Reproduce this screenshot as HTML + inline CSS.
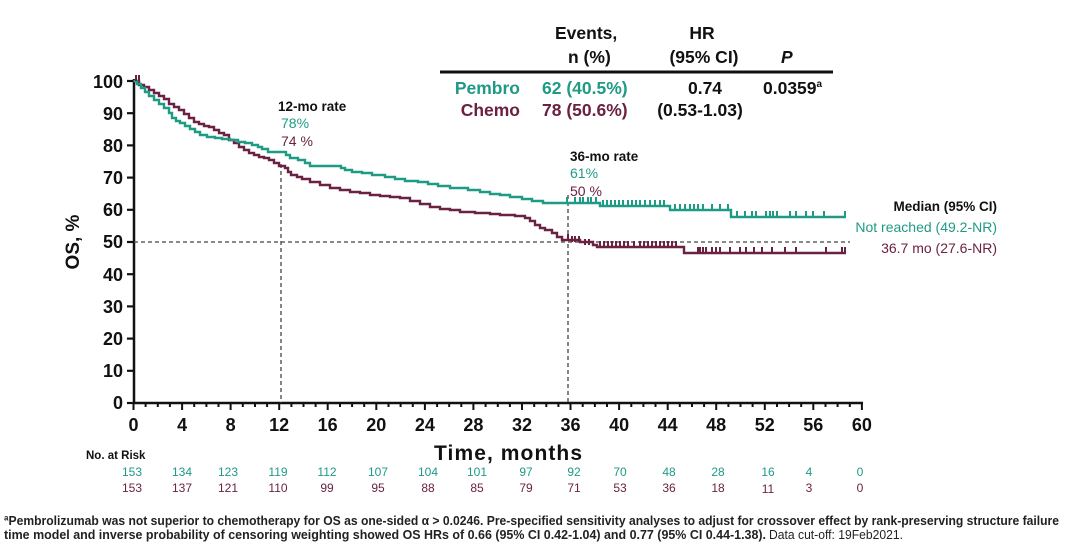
<!DOCTYPE html>
<html><head><meta charset="utf-8"><style>
html,body{margin:0;padding:0;background:#fff;}
svg{display:block;}
text{font-family:"Liberation Sans",Arial,sans-serif;}
</style></head><body>
<svg width="1080" height="555" viewBox="0 0 1080 555" xmlns="http://www.w3.org/2000/svg">
<rect width="1080" height="555" fill="#fff"/>

<!-- Header table -->
<g font-weight="bold" font-size="17.5" fill="#111">
<text x="555" y="39">Events,</text>
<text x="568" y="63">n (%)</text>
<text x="702" y="39" text-anchor="middle">HR</text>
<text x="704" y="63" text-anchor="middle">(95% CI)</text>
<text x="781" y="63" font-style="italic">P</text>
</g>
<line x1="440" y1="72" x2="833" y2="72" stroke="#111" stroke-width="3"/>
<g font-weight="bold" font-size="17.5">
<text x="520" y="94" text-anchor="end" fill="#1f9a85">Pembro</text>
<text x="542" y="94" fill="#1f9a85">62 (40.5%)</text>
<text x="705" y="94" text-anchor="middle" fill="#111">0.74</text>
<text x="763" y="94" fill="#111">0.0359<tspan font-size="10" dy="-7">a</tspan></text>
<text x="520" y="116" text-anchor="end" fill="#6b2242">Chemo</text>
<text x="542" y="116" fill="#6b2242">78 (50.6%)</text>
<text x="700" y="116" text-anchor="middle" fill="#111">(0.53-1.03)</text>
</g>

<!-- Axes -->
<g stroke="#111" stroke-width="2.5" fill="none">
<line x1="134" y1="79" x2="134" y2="404"/>
<line x1="133" y1="403" x2="863" y2="403"/>
</g>
<!-- Y ticks -->
<g stroke="#111" stroke-width="2.2">
<line x1="127" y1="81" x2="134" y2="81"/>
<line x1="127" y1="113.2" x2="134" y2="113.2"/>
<line x1="127" y1="145.4" x2="134" y2="145.4"/>
<line x1="127" y1="177.6" x2="134" y2="177.6"/>
<line x1="127" y1="209.8" x2="134" y2="209.8"/>
<line x1="127" y1="242" x2="134" y2="242"/>
<line x1="127" y1="274.2" x2="134" y2="274.2"/>
<line x1="127" y1="306.4" x2="134" y2="306.4"/>
<line x1="127" y1="338.6" x2="134" y2="338.6"/>
<line x1="127" y1="370.8" x2="134" y2="370.8"/>
<line x1="127" y1="403" x2="134" y2="403"/>
</g>
<g font-weight="bold" font-size="18" fill="#111" text-anchor="end">
<text x="123" y="88">100</text>
<text x="123" y="120">90</text>
<text x="123" y="152">80</text>
<text x="123" y="184">70</text>
<text x="123" y="216">60</text>
<text x="123" y="248">50</text>
<text x="123" y="281">40</text>
<text x="123" y="313">30</text>
<text x="123" y="345">20</text>
<text x="123" y="377">10</text>
<text x="123" y="409">0</text>
</g>
<!-- X ticks -->
<g stroke="#111" stroke-width="2">
<path d="M133.5,403V410 M182.1,403V410 M230.6,403V410 M279.2,403V410 M327.7,403V410 M376.3,403V410 M424.9,403V410 M473.4,403V410 M522,403V410 M570.5,403V410 M619.1,403V410 M667.7,403V410 M716.2,403V410 M764.8,403V410 M813.3,403V410 M861.9,403V410"/>
<path d="M145.6,403V407 M157.8,403V407 M169.9,403V407 M194.2,403V407 M206.4,403V407 M218.5,403V407 M242.8,403V407 M255,403V407 M267.1,403V407 M291.4,403V407 M303.5,403V407 M315.6,403V407 M340,403V407 M352.1,403V407 M364.2,403V407 M388.5,403V407 M400.6,403V407 M412.8,403V407 M437.1,403V407 M449.2,403V407 M461.3,403V407 M485.6,403V407 M497.8,403V407 M509.9,403V407 M534.2,403V407 M546.3,403V407 M558.4,403V407 M582.7,403V407 M594.9,403V407 M607,403V407 M631.3,403V407 M643.4,403V407 M655.5,403V407 M679.8,403V407 M692,403V407 M704.1,403V407 M728.4,403V407 M740.5,403V407 M752.6,403V407 M777,403V407 M789.1,403V407 M801.2,403V407 M825.5,403V407 M837.6,403V407 M849.8,403V407"/>
</g>
<g font-weight="bold" font-size="18" fill="#111" text-anchor="middle">
<text x="133.5" y="431">0</text>
<text x="182.1" y="431">4</text>
<text x="230.6" y="431">8</text>
<text x="279.2" y="431">12</text>
<text x="327.7" y="431">16</text>
<text x="376.3" y="431">20</text>
<text x="424.9" y="431">24</text>
<text x="473.4" y="431">28</text>
<text x="522" y="431">32</text>
<text x="570.5" y="431">36</text>
<text x="619.1" y="431">40</text>
<text x="667.7" y="431">44</text>
<text x="716.2" y="431">48</text>
<text x="764.8" y="431">52</text>
<text x="813.3" y="431">56</text>
<text x="861.9" y="431">60</text>
</g>
<text x="434" y="460" font-weight="bold" font-size="21" fill="#111" textLength="148" lengthAdjust="spacing">Time, months</text>
<text transform="translate(79,242) rotate(-90)" text-anchor="middle" font-weight="bold" font-size="19" fill="#111">OS, %</text>

<!-- Dashed reference lines -->
<g stroke="#444" stroke-width="1.3" stroke-dasharray="4,3" fill="none">
<line x1="134" y1="242" x2="850" y2="242"/>
<line x1="281" y1="164" x2="281" y2="403"/>
<line x1="568" y1="195" x2="568" y2="403"/>
</g>

<!-- Curves -->
<path fill="none" stroke="#6b2242" stroke-width="2.4" d="M133.5,81 H139 V85 H144 V87 H149 V90 H154 V93 H159 V96 H164 V99 H169 V104 H174 V107 H179 V110 H184 V114 H189 V118 H194 V122 H199 V124 H204 V126 H209 V127 H214 V130 H219 V133 H224 V135 H229 V140 H234 V143 H239 V147 H244 V150 H249 V153 H254 V155 H259 V157 H264 V158 H269 V160 H274 V163 H279 V166 H285 V168 H288 V172 H291 V175 H297 V177 H302 V179 H310 V182 H320 V185 H330 V188 H340 V190 H350 V192 H360 V193 H370 V195 H380 V196 H390 V197 H400 V198 H410 V201 H420 V204 H430 V207 H440 V209 H450 V210 H460 V212 H475 V213 H490 V214 H500 V215 H515 V216 H525 V218 H530 V221 H535 V225 H540 V228 H545 V230 H552 V233 H557 V237 H562 V240 H580 V242 H593 V245 H597 V247 H684 V253 H846"/>
<path fill="none" stroke="#1f9a85" stroke-width="2.4" d="M133.5,81 H137 V84 H141 V88 H145 V92 H149 V96 H154 V100 H159 V104 H164 V108 H169 V113 H172 V118 H176 V121 H180 V123 H185 V126 H190 V129 H195 V132 H200 V135 H207 V137 H215 V138 H222 V139 H230 V140 H238 V142 H245 V143 H252 V145 H258 V147 H262 V149 H268 V152 H286 V155 H290 V158 H298 V160 H305 V163 H310 V166 H341 V168 H345 V170 H352 V172 H362 V173 H372 V175 H385 V177 H395 V179 H405 V181 H418 V182 H428 V184 H438 V186 H450 V188 H468 V190 H480 V192 H490 V194 H500 V195 H510 V197 H522 V199 H532 V201 H543 V203 H600 V206 H670 V210 H731 V217 H846"/>
<!-- Censor marks -->
<path fill="none" stroke="#1f9a85" stroke-width="2" d="M567,203v-6 M575,203v-6 M580,203v-6 M583,203v-6 M588,203v-6 M591,203v-6 M596,203v-6 M603,206v-6 M607,206v-6 M611,206v-6 M615,206v-6 M619,206v-6 M623,206v-6 M628,206v-6 M632,206v-6 M636,206v-6 M640,206v-6 M645,206v-6 M650,206v-6 M655,206v-6 M660,206v-6 M664,206v-6 M675,210v-6 M680,210v-6 M685,210v-6 M690,210v-6 M694,210v-6 M698,210v-6 M703,210v-6 M712,210v-6 M720,210v-6 M728,210v-6 M737,217v-6 M745,217v-6 M752,217v-6 M756,217v-6 M766,217v-6 M770,217v-6 M773,217v-6 M777,217v-6 M790,217v-6 M796,217v-6 M806,217v-6 M813,217v-6 M824,217v-6 M845,217v-6"/>
<path fill="none" stroke="#6b2242" stroke-width="2" d="M136,81v-6 M139,81v-6 M568,240v-6 M572,242v-6 M575,242v-6 M579,242v-6 M585,245v-6 M589,245v-6 M600,247v-6 M604,247v-6 M608,247v-6 M612,247v-6 M616,247v-6 M620,247v-6 M624,247v-6 M628,247v-6 M634,247v-6 M640,247v-6 M644,247v-6 M648,247v-6 M652,247v-6 M656,247v-6 M660,247v-6 M664,247v-6 M668,247v-6 M672,247v-6 M676,247v-6 M698,253v-6 M700,253v-6 M703,253v-6 M706,253v-6 M712,253v-6 M716,253v-6 M720,253v-6 M730,253v-6 M740,253v-6 M746,253v-6 M754,253v-6 M762,253v-6 M772,253v-6 M785,253v-6 M796,253v-6 M826,253v-6 M842,253v-6 M845,253v-6"/>

<!-- Rate annotations -->
<text x="278" y="111" font-weight="bold" font-size="13.5" fill="#111">12-mo rate</text>
<text x="281" y="128" font-size="14" fill="#1f9a85">78%</text>
<text x="281" y="146" font-size="14" fill="#6b2242">74 %</text>
<text x="570" y="161" font-weight="bold" font-size="13.5" fill="#111">36-mo rate</text>
<text x="570" y="178" font-size="14" fill="#1f9a85">61%</text>
<text x="570" y="196" font-size="14" fill="#6b2242">50 %</text>

<!-- Median legend -->
<text x="997" y="211" text-anchor="end" font-weight="bold" font-size="13.5" fill="#111">Median (95% CI)</text>
<text x="997" y="232" text-anchor="end" font-size="14" fill="#1f9a85">Not reached (49.2-NR)</text>
<text x="997" y="253" text-anchor="end" font-size="14" fill="#6b2242">36.7 mo (27.6-NR)</text>

<!-- Number at risk -->
<text x="86" y="459" font-weight="bold" font-size="11.5" fill="#111">No. at Risk</text>
<g font-size="12" fill="#1f9a85" text-anchor="middle">
<text x="132" y="476">153</text>
<text x="182" y="476">134</text>
<text x="228" y="476">123</text>
<text x="278" y="476">119</text>
<text x="327" y="476">112</text>
<text x="378" y="476">107</text>
<text x="428" y="476">104</text>
<text x="477" y="476">101</text>
<text x="526" y="476">97</text>
<text x="574" y="476">92</text>
<text x="620" y="476">70</text>
<text x="669" y="476">48</text>
<text x="718" y="476">28</text>
<text x="768" y="476">16</text>
<text x="809" y="476">4</text>
<text x="860" y="476">0</text>
</g>
<g font-size="12" fill="#6b2242" text-anchor="middle">
<text x="132" y="492">153</text>
<text x="182" y="492">137</text>
<text x="228" y="492">121</text>
<text x="278" y="492">110</text>
<text x="327" y="492">99</text>
<text x="378" y="492">95</text>
<text x="428" y="492">88</text>
<text x="477" y="492">85</text>
<text x="526" y="492">79</text>
<text x="574" y="492">71</text>
<text x="620" y="492">53</text>
<text x="669" y="492">36</text>
<text x="718" y="492">18</text>
<text x="768" y="493">11</text>
<text x="809" y="492">3</text>
<text x="860" y="492">0</text>
</g>

<!-- Footnote -->
<text x="4" y="525" font-weight="bold" font-size="12.5" fill="#222" textLength="1055" lengthAdjust="spacingAndGlyphs">ªPembrolizumab was not superior to chemotherapy for OS as one-sided α &gt; 0.0246. Pre-specified sensitivity analyses to adjust for crossover effect by rank-preserving structure failure</text>
<text x="4" y="539" font-weight="bold" font-size="12.5" fill="#222" textLength="762" lengthAdjust="spacingAndGlyphs">time model and inverse probability of censoring weighting showed OS HRs of 0.66 (95% CI 0.42-1.04) and 0.77 (95% CI 0.44-1.38).</text>
<text x="769" y="539" font-size="12.5" fill="#222" textLength="134" lengthAdjust="spacingAndGlyphs">Data cut-off: 19Feb2021.</text>
</svg>
</body></html>
